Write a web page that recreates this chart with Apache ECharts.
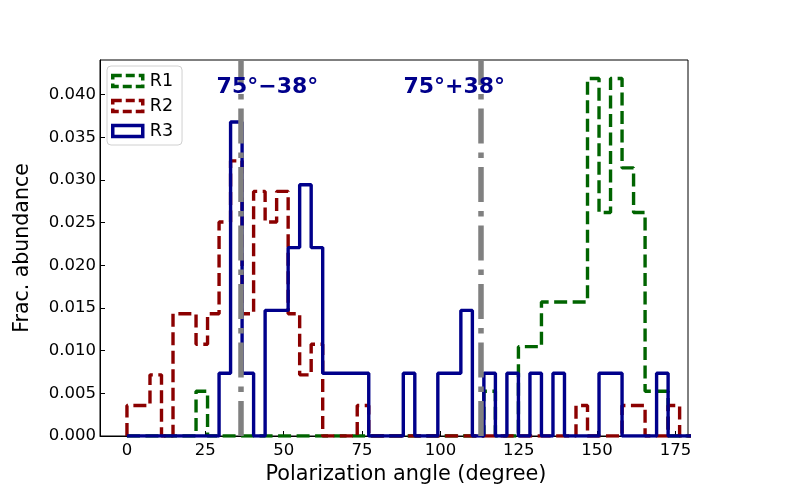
<!DOCTYPE html>
<html>
<head>
<meta charset="utf-8">
<script src="https://cdn.jsdelivr.net/npm/echarts@6/dist/echarts.min.js"></script>
<style>
  html, body { margin: 0; padding: 0; background: #fff; }
  #chart { width: 797px; height: 498px; }
</style>
</head>
<body>
<div id="chart"></div>
<script>
// 49 bins between 0 and 180 degrees, counts
const binCount = 49;
const angleMin = 0;
const angleMax = 180;

const countsR1 = [
  0, 0, 0, 0, 0, 0, 1, 0, 0, 0,
  0, 0, 0, 0, 0, 0, 0, 0, 0, 0,
  0, 0, 0, 0, 0, 0, 0, 0, 0, 0,
  0, 1, 0, 0, 2, 2, 3, 3, 3, 3,
  8, 5, 8, 6, 5, 1, 1, 0, 0
];
const countsR2 = [
  1, 1, 2, 0, 4, 4, 3, 4, 7, 9,
  4, 8, 7, 8, 4, 2, 3, 0, 0, 0,
  1, 0, 0, 0, 0, 0, 0, 0, 0, 0,
  0, 0, 0, 0, 0, 0, 0, 0, 0, 1,
  0, 0, 0, 1, 1, 0, 0, 1, 0
];
const countsR3 = [
  0, 0, 0, 0, 0, 0, 0, 0, 1, 5,
  1, 0, 2, 2, 3, 4, 3, 1, 1, 1,
  1, 0, 0, 0, 1, 0, 0, 1, 1, 2,
  0, 1, 0, 1, 0, 1, 0, 1, 0, 0,
  0, 1, 1, 0, 0, 0, 1, 0, 0
];

const xTicks = [0, 25, 50, 75, 100, 125, 150, 175];
const yTicks = [0, 0.005, 0.01, 0.015, 0.02, 0.025, 0.03, 0.035, 0.04];

// 75 deg +/- 38 deg reference lines and their labels
const refLines = [36.3, 112.8];
const refLabels = ["75°−38°", "75°+38°"];
const refLabelX = [28.6, 88.2];
const refLabelY = 0.0408;

const FONT = "DejaVu Sans";

// density=True step outline, like matplotlib histtype="step"
function stepOutline(counts) {
  const w = (angleMax - angleMin) / binCount;
  const total = counts.reduce((a, b) => a + b, 0);
  const pts = [[angleMin, 0]];
  counts.forEach((c, k) => {
    const h = c / (total * w);
    pts.push([angleMin + k * w, h]);
    pts.push([angleMin + (k + 1) * w, h]);
  });
  pts.push([angleMax, 0]);
  return pts;
}

const colR1 = "#006400";
const colR2 = "#8b0000";
const colR3 = "#00008b";
const dashed = [13, 5.5];

const chart = echarts.init(document.getElementById("chart"), null, { renderer: "canvas" });

const option = {
  animation: false,
  backgroundColor: "#fff",
  textStyle: { fontFamily: FONT },
  grid: {
    left: 100,
    top: 60,
    width: 588,
    height: 376,
    outerBoundsMode: "none",
    containLabel: false,
    show: true,
    borderColor: "#000",
    borderWidth: 1,
    backgroundColor: "transparent",
  },
  legend: {
    orient: "vertical",
    left: 107,
    top: 66,
    padding: [6, 9, 5, 4],
    itemWidth: 30,
    itemHeight: 11,
    itemGap: 7,
    backgroundColor: "#fff",
    borderColor: "#d0d0d0",
    borderWidth: 1,
    borderRadius: 4,
    textStyle: { fontFamily: FONT, fontSize: 17.5, color: "#000", padding: [0, 0, 0, 2] },
    data: [
      { name: "R1", icon: "rect", itemStyle: { color: "transparent", borderColor: colR1, borderWidth: 3.5, borderType: [9, 4] } },
      { name: "R2", icon: "rect", itemStyle: { color: "transparent", borderColor: colR2, borderWidth: 3.5, borderType: [9, 4] } },
      { name: "R3", icon: "rect", itemStyle: { color: "transparent", borderColor: colR3, borderWidth: 3.5 } },
    ],
  },
  xAxis: {
    type: "value",
    min: -8.6,
    max: 179,
    name: "Polarization angle (degree)",
    nameLocation: "middle",
    nameGap: 25,
    nameTextStyle: { fontFamily: FONT, fontSize: 20.8, color: "#000", padding: [0, 0, 0, 24] },
    axisLine: { show: true, onZero: false, lineStyle: { color: "#000", width: 1 } },
    axisTick: { show: true, inside: true, length: 5, customValues: xTicks, lineStyle: { color: "#000", width: 1 } },
    axisLabel: { customValues: xTicks, fontFamily: FONT, fontSize: 16.5, color: "#000", margin: 6 },
    splitLine: { show: false },
  },
  yAxis: {
    type: "value",
    min: 0,
    max: 0.04405,
    name: "Frac. abundance",
    nameLocation: "middle",
    nameGap: 67,
    nameTextStyle: { fontFamily: FONT, fontSize: 20.5, color: "#000" },
    axisLine: { show: true, onZero: false, lineStyle: { color: "#000", width: 1 } },
    axisTick: { show: true, inside: true, length: 5, customValues: yTicks, lineStyle: { color: "#000", width: 1 } },
    axisLabel: {
      customValues: yTicks,
      fontFamily: FONT,
      fontSize: 16.5,
      color: "#000",
      margin: 4,
      formatter: (v) => v.toFixed(3),
    },
    splitLine: { show: false },
  },
  series: [
    {
      name: "R1",
      type: "line",
      data: stepOutline(countsR1),
      showSymbol: false,
      color: colR1,
      lineStyle: { color: colR1, width: 3.4, type: dashed },
      z: 2,
    },
    {
      name: "R2",
      type: "line",
      data: stepOutline(countsR2),
      showSymbol: false,
      color: colR2,
      lineStyle: { color: colR2, width: 3.4, type: dashed },
      z: 3,
    },
    {
      name: "R3",
      type: "line",
      data: stepOutline(countsR3),
      showSymbol: false,
      color: colR3,
      lineStyle: { color: colR3, width: 3.4 },
      z: 4,
    },
    {
      name: "ref",
      type: "line",
      data: [],
      z: 5,
      markLine: {
        silent: true,
        symbol: "none",
        label: { show: false },
        lineStyle: { color: "#808080", width: 5.5, type: [35, 9, 5.5, 9], opacity: 1 },
        data: refLines.map((x) => ({ xAxis: x })),
      },
    },
    {
      name: "labels",
      type: "scatter",
      symbolSize: 0,
      z: 6,
      itemStyle: { opacity: 1 },
      data: refLabels.map((t, i) => [refLabelX[i], refLabelY, t]),
      label: {
        show: true,
        position: "inside",
        align: "left",
        verticalAlign: "middle",
        formatter: (p) => p.data[2],
        fontFamily: FONT,
        fontWeight: "bold",
        fontSize: 22,
        color: colR3,
        opacity: 1,
      },
    },
  ],
};

chart.setOption(option);
</script>
</body>
</html>
